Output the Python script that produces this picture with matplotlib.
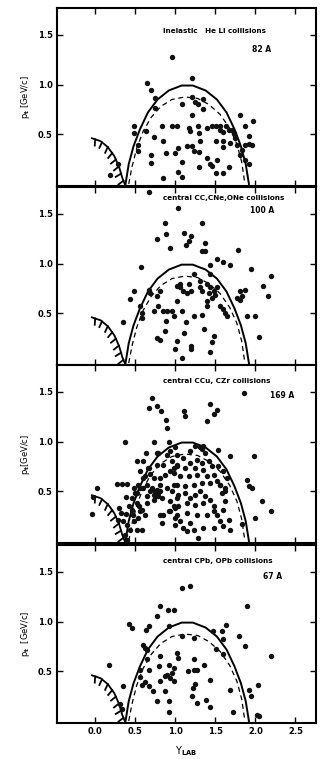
import numpy as np
import matplotlib
matplotlib.use("Agg")
import matplotlib.pyplot as plt
import matplotlib.patheffects as pe

plt.rcParams['font.family'] = ['DejaVu Sans']
plt.rcParams['font.weight'] = 'bold'

# kinematic limit curves
solid_x = [0.38, 0.42, 0.48, 0.56, 0.66, 0.78, 0.92, 1.08, 1.22, 1.38, 1.52, 1.64, 1.74, 1.82, 1.88, 1.92]
solid_y = [0.0, 0.2, 0.38, 0.55, 0.72, 0.85, 0.94, 0.99, 0.99, 0.94, 0.85, 0.72, 0.55, 0.38, 0.2, 0.0]
dash_x = [0.42, 0.46, 0.52, 0.60, 0.70, 0.82, 0.96, 1.12, 1.28, 1.42, 1.56, 1.68, 1.77, 1.83, 1.87]
dash_y = [0.0, 0.17, 0.36, 0.53, 0.67, 0.78, 0.85, 0.875, 0.86, 0.80, 0.70, 0.56, 0.40, 0.22, 0.0]
hatch_x = [-0.04, 0.07, 0.16, 0.24, 0.30, 0.34, 0.37]
hatch_y = [0.46, 0.43, 0.37, 0.28, 0.17, 0.06, 0.0]

titles = ["inelastic   He Li collisions", "central CC,CNe,ONe collisions",
          "central CCu, CZr collisions", "central CPb, OPb collisions"]
counts = ["82 A", "100 A", "169 A", "67 A"]
ylabels = [r"p$_\mathsf{t}$ [GeV/c]", "", r"p$_\mathsf{t}$[GeV/c]", r"p$_\mathsf{t}$  [GeV/c]"]

heli = np.array([
    (0.96, 1.28), (1.21, 1.07), (0.65, 1.02), (0.70, 0.95), (0.75, 0.86), (0.75, 0.76),
    (0.49, 0.585), (0.49, 0.51), (0.53, 0.39), (0.53, 0.33), (0.64, 0.53), (0.73, 0.47),
    (0.70, 0.29), (0.70, 0.21), (0.19, 0.095), (0.29, 0.20), (0.84, 0.58), (0.96, 0.58),
    (1.02, 0.58), (0.85, 0.43), (0.89, 0.31), (1.0, 0.31), (1.04, 0.36), (0.85, 0.06),
    (1.04, 0.12), (1.08, 0.07), (1.09, 0.80), (1.09, 0.22), (1.21, 0.87), (1.25, 0.82),
    (1.21, 0.69), (1.28, 0.80), (1.35, 0.85), (1.35, 0.75), (1.17, 0.56), (1.19, 0.53),
    (1.29, 0.58), (1.30, 0.51), (1.15, 0.38), (1.21, 0.38), (1.23, 0.33), (1.30, 0.32),
    (1.31, 0.43), (1.30, 0.17), (1.40, 0.26), (1.43, 0.20), (1.46, 0.18), (1.52, 0.24),
    (1.51, 0.11), (1.60, 0.11), (1.67, 0.17), (1.46, 0.585), (1.51, 0.585), (1.56, 0.58),
    (1.56, 0.54), (1.60, 0.52), (1.63, 0.585), (1.67, 0.54), (1.71, 0.54), (1.73, 0.51),
    (1.75, 0.46), (1.51, 0.43), (1.60, 0.43), (1.60, 0.37), (1.69, 0.41), (1.77, 0.39),
    (1.83, 0.34), (1.81, 0.29), (1.875, 0.39), (1.92, 0.40), (1.96, 0.39), (1.92, 0.48),
    (1.87, 0.58), (1.81, 0.69), (1.97, 0.63), (1.875, 0.24), (1.92, 0.20), (1.40, 0.56),
])

cc = np.array([
    (0.67, 1.72), (1.03, 1.56), (0.875, 1.41), (1.33, 1.41), (0.89, 1.30), (0.77, 1.25),
    (1.11, 1.31), (1.20, 1.28), (1.17, 1.23), (1.14, 1.19), (0.94, 1.16), (1.375, 1.21),
    (1.33, 1.13), (1.375, 1.13), (1.78, 1.14), (1.52, 1.05), (1.60, 1.02), (1.68, 0.99),
    (1.43, 0.99), (0.57, 0.97), (1.94, 0.95), (2.2, 0.88), (2.10, 0.78), (2.16, 0.67),
    (1.23, 0.90), (1.43, 0.90), (0.48, 0.73), (0.44, 0.64), (0.67, 0.74), (0.69, 0.70),
    (0.81, 0.73), (0.77, 0.67), (0.56, 0.57), (0.58, 0.50), (0.58, 0.45), (0.78, 0.57),
    (0.73, 0.52), (0.85, 0.52), (0.90, 0.52), (0.96, 0.52), (0.98, 0.47), (0.89, 0.42),
    (1.02, 0.62), (1.08, 0.52), (1.02, 0.78), (1.06, 0.77), (1.10, 0.73), (1.15, 0.70),
    (1.06, 0.80), (1.17, 0.80), (1.20, 0.73), (1.31, 0.83), (1.31, 0.77), (1.33, 0.72),
    (1.40, 0.80), (1.44, 0.77), (1.48, 0.73), (1.50, 0.68), (1.42, 0.70), (1.52, 0.77),
    (1.46, 0.65), (1.40, 0.62), (1.40, 0.57), (1.33, 0.48), (1.24, 0.47), (1.36, 0.34),
    (1.14, 0.41), (1.11, 0.30), (0.87, 0.32), (0.77, 0.25), (0.81, 0.23), (1.02, 0.22),
    (1.0, 0.14), (1.20, 0.17), (1.20, 0.14), (1.48, 0.27), (1.46, 0.21), (1.44, 0.11),
    (1.08, 0.05), (1.60, 0.54), (1.62, 0.50), (1.56, 0.57), (1.81, 0.73), (1.87, 0.74),
    (1.83, 0.67), (1.81, 0.63), (1.77, 0.65), (1.90, 0.47), (2.0, 0.47), (2.05, 0.26),
    (0.35, 0.41), (1.65, 0.47),
])

ccu = np.array([
    (0.71, 1.44), (0.67, 1.34), (0.77, 1.36), (0.82, 1.31), (0.89, 1.22), (0.90, 1.14),
    (0.375, 1.0), (0.73, 1.0), (0.92, 1.0), (0.64, 0.89), (0.78, 0.89), (0.52, 0.80),
    (0.665, 0.73), (0.69, 0.67), (0.02, 0.53), (-0.03, 0.44), (-0.04, 0.27), (0.27, 0.57),
    (0.33, 0.57), (0.40, 0.57), (0.30, 0.33), (0.32, 0.28), (0.39, 0.27), (0.29, 0.21),
    (0.35, 0.20), (0.39, 0.44), (0.46, 0.43), (0.49, 0.53), (0.52, 0.48), (0.56, 0.53),
    (0.60, 0.63), (0.55, 0.35), (0.56, 0.30), (0.54, 0.23), (0.47, 0.26), (0.44, 0.11),
    (0.52, 0.11), (0.58, 0.11), (0.65, 0.38), (0.75, 0.50), (0.81, 0.50), (0.78, 0.48),
    (0.76, 0.45), (0.83, 0.43), (0.85, 0.26), (0.83, 0.18), (0.65, 0.56), (0.68, 0.50),
    (0.81, 0.63), (0.875, 0.66), (0.94, 0.70), (0.98, 0.73), (1.02, 0.76), (1.02, 0.43),
    (0.98, 0.35), (0.92, 0.30), (1.0, 0.23), (0.90, 0.86), (0.96, 0.80), (0.85, 0.76),
    (0.77, 0.76), (0.73, 0.63), (0.81, 0.56), (0.90, 0.53), (0.98, 0.56), (0.71, 0.53),
    (0.77, 0.51), (0.73, 0.46), (0.79, 0.45), (0.73, 0.41), (0.65, 0.45), (0.60, 0.53),
    (0.54, 0.56), (0.50, 0.48), (0.42, 0.35), (0.46, 0.31), (0.52, 0.38), (0.58, 0.31),
    (0.625, 0.26), (0.48, 0.20), (0.40, 0.16), (0.375, 0.06), (0.40, 0.01), (0.81, 0.26),
    (0.94, 0.30), (0.94, 0.40), (1.0, 0.33), (0.56, 0.70), (0.625, 0.65), (0.67, 0.73),
    (0.60, 0.80), (0.77, 0.88),
    (1.86, 1.49), (1.43, 1.38), (1.11, 1.31), (1.125, 1.26), (1.52, 1.32), (1.48, 1.28),
    (1.40, 1.21), (1.69, 0.85), (1.98, 0.85), (1.54, 0.92), (1.35, 0.96), (1.31, 0.95),
    (1.0, 0.95), (1.19, 0.91), (1.65, 0.63), (1.56, 0.56), (1.625, 0.53), (1.58, 0.48),
    (1.90, 0.61), (1.92, 0.55), (1.96, 0.53), (2.08, 0.40), (2.19, 0.30), (2.0, 0.23),
    (1.83, 0.17), (0.94, 0.91), (1.02, 0.86), (1.10, 0.83), (1.25, 0.96), (1.33, 0.93),
    (1.375, 0.88), (1.27, 0.81), (1.33, 0.78), (1.42, 0.80), (1.46, 0.75), (1.35, 0.71),
    (1.25, 0.73), (1.19, 0.78), (1.125, 0.73), (1.02, 0.75), (0.98, 0.68), (1.06, 0.65),
    (1.17, 0.65), (1.27, 0.66), (1.40, 0.65), (1.48, 0.66), (1.52, 0.60), (1.44, 0.58),
    (1.33, 0.58), (1.23, 0.56), (1.125, 0.55), (1.02, 0.56), (0.96, 0.50), (1.04, 0.46),
    (1.125, 0.48), (1.19, 0.43), (1.25, 0.46), (1.31, 0.50), (1.375, 0.45), (1.44, 0.41),
    (1.35, 0.38), (1.25, 0.36), (1.15, 0.38), (1.04, 0.35), (1.48, 0.35), (1.48, 0.30),
    (1.52, 0.26), (1.60, 0.31), (1.625, 0.40), (1.56, 0.20), (1.67, 0.21), (1.40, 0.26),
    (1.27, 0.26), (1.15, 0.28), (1.02, 0.26), (1.06, 0.20), (1.19, 0.18), (1.10, 0.13),
    (1.23, 0.11), (1.35, 0.13), (1.48, 0.13), (1.60, 0.15), (1.29, 0.03), (1.15, 0.10),
    (1.0, 0.16), (1.69, 0.11), (1.625, 0.50), (1.56, 0.56), (1.60, 0.70), (1.54, 0.75),
])

cpb = np.array([
    (1.09, 1.34), (1.18, 1.36), (1.89, 1.16), (0.81, 1.16), (0.91, 1.12), (0.99, 1.12),
    (0.77, 1.06), (0.42, 0.98), (0.46, 0.94), (0.67, 0.96), (0.64, 0.92), (0.925, 0.96),
    (1.47, 0.91), (1.58, 0.91), (1.63, 0.97), (1.79, 0.86), (1.60, 0.82), (1.08, 0.86),
    (1.23, 0.84), (0.60, 0.76), (0.625, 0.73), (0.65, 0.71), (1.51, 0.72), (1.60, 0.67),
    (1.875, 0.75), (2.20, 0.65), (0.17, 0.56), (0.81, 0.65), (1.02, 0.68), (1.03, 0.63),
    (0.65, 0.62), (0.56, 0.51), (0.67, 0.51), (0.80, 0.55), (0.92, 0.56), (0.98, 0.53),
    (0.96, 0.48), (0.90, 0.46), (0.875, 0.45), (0.94, 0.43), (0.99, 0.40), (1.23, 0.62),
    (1.23, 0.51), (1.36, 0.56), (1.16, 0.50), (1.27, 0.51), (0.56, 0.44), (0.58, 0.36),
    (0.625, 0.39), (0.67, 0.35), (0.72, 0.30), (0.81, 0.40), (0.875, 0.30), (0.77, 0.20),
    (0.92, 0.20), (0.92, 0.09), (1.25, 0.37), (1.22, 0.33), (1.21, 0.25), (1.27, 0.18),
    (1.38, 0.21), (1.43, 0.14), (1.44, 0.41), (1.69, 0.31), (1.72, 0.09), (1.92, 0.31),
    (1.94, 0.25), (2.03, 0.36), (2.02, 0.06), (2.05, 0.05), (0.35, 0.35), (0.31, 0.17),
    (0.33, 0.12),
])

panels = [heli, cc, ccu, cpb]

fig = plt.figure(figsize=(3.24, 7.59), dpi=100)
bottoms = [0.755, 0.519, 0.2846, 0.0474]
for i, pts in enumerate(panels):
    ax = fig.add_axes([0.176, bottoms[i], 0.80, 0.2345])
    ax.set_xlim(-0.475, 2.76)
    ax.set_ylim(-0.02, 1.77)
    ax.plot(solid_x, solid_y, color='black', lw=1.4)
    ax.plot(dash_x, dash_y, color='black', lw=0.9, ls=(0, (4, 3)))
    ax.plot(hatch_x, hatch_y, color='black', lw=1.3,
            path_effects=[pe.withTickedStroke(angle=-75, spacing=5, length=0.9)])
    ax.scatter(pts[:, 0], pts[:, 1], s=15, color='#111111', linewidths=0, zorder=3)
    ax.set_xticks([0.0, 0.5, 1.0, 1.5, 2.0, 2.5])
    ax.set_yticks([0.5, 1.0, 1.5])
    ax.tick_params(direction='in', top=True, right=True, length=4, width=1,
                   labelsize=6, pad=3)
    if i < 3:
        ax.tick_params(labelbottom=False)
    for s in ax.spines.values():
        s.set_linewidth(1.5)
    ax.text(0.41, 0.86 if i == 0 else (0.93 if i == 1 else 0.9), titles[i],
            transform=ax.transAxes, fontsize=5.2, fontweight='bold')
    ypos = [0.75, 0.855, 0.815, 0.81][i]
    xpos = [0.79, 0.79, 0.87, 0.83][i]
    ax.text(xpos, ypos, counts[i], transform=ax.transAxes, fontsize=5.5,
            fontweight='bold', ha='center')
    if ylabels[i]:
        ax.set_ylabel(ylabels[i], fontsize=6, labelpad=4)
    if i == 3:
        ax.set_xlabel(r"Y$_\mathsf{LAB}$", fontsize=7, labelpad=6)

fig.savefig("out.png", dpi=100, facecolor='white')
